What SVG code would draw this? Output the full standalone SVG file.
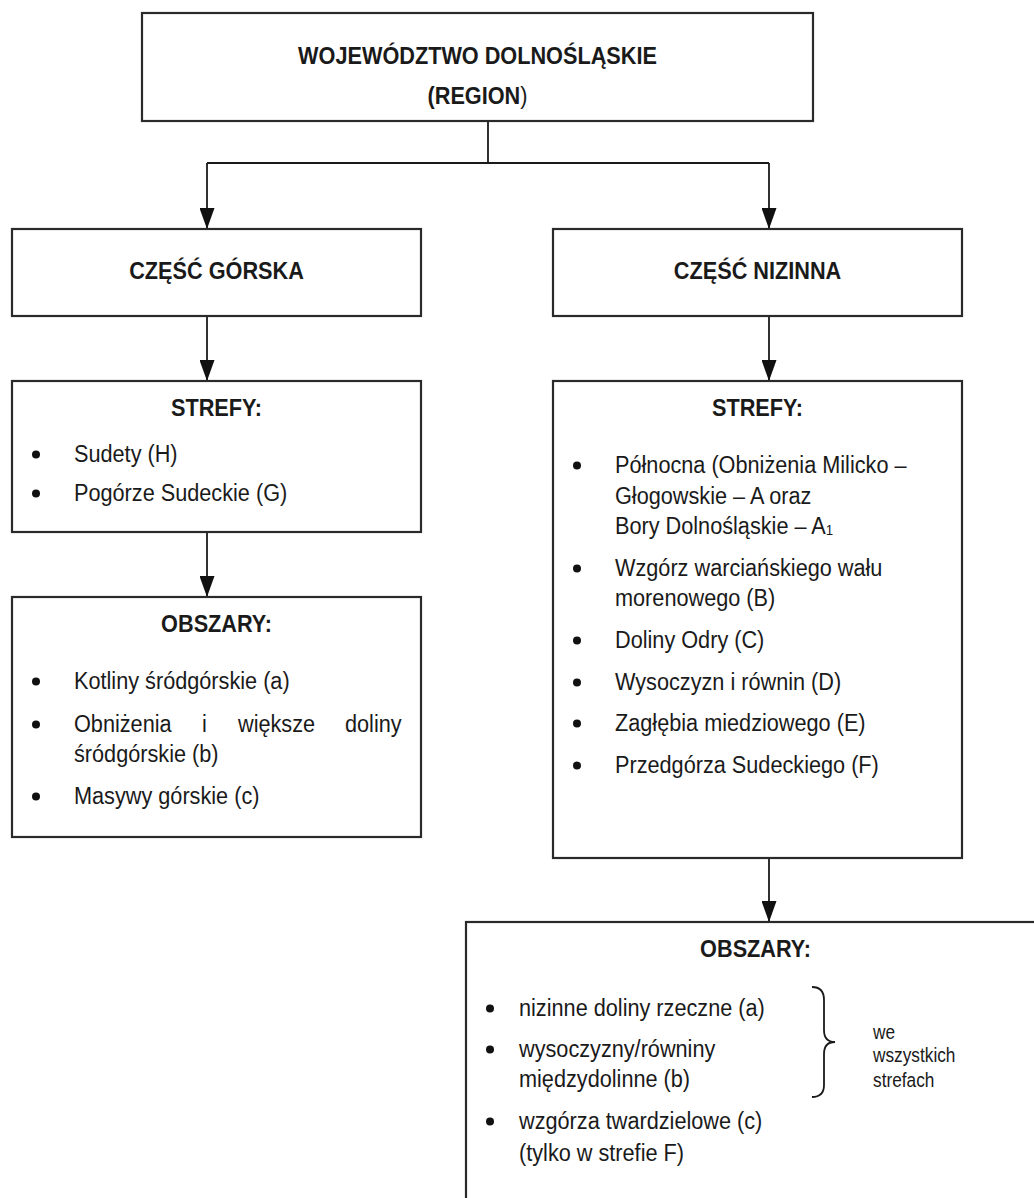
<svg xmlns="http://www.w3.org/2000/svg" width="1034" height="1198" viewBox="0 0 1034 1198">
<style>
.box{fill:#fff;stroke:#2a2a2a;stroke-width:2.2}
.ln{fill:none;stroke:#1a1a1a;stroke-width:1.8}
.t{font-family:"Liberation Sans",Arial,sans-serif;font-size:24.5px;fill:#1a1a1a}
.b{font-weight:bold}
.m{text-anchor:middle}
.s{font-family:"Liberation Sans",Arial,sans-serif;font-size:19.5px;fill:#1a1a1a}
.dot{fill:#111}
</style>
<defs>
<marker id="ah" markerUnits="userSpaceOnUse" markerWidth="21" markerHeight="15" refX="21" refY="7.5" orient="auto" viewBox="0 0 21 15">
<path d="M0,0 L21,7.5 L0,15 z" fill="#111"/>
</marker>
</defs>
<rect width="1034" height="1198" fill="#fff"/>

<g id="connectors">
<path class="ln" d="M488,121 L488,163"/>
<path class="ln" d="M207,163 L769,163"/>
<path class="ln" d="M207,163 L207,229" marker-end="url(#ah)"/>
<path class="ln" d="M769,163 L769,229" marker-end="url(#ah)"/>
<path class="ln" d="M207,316 L207,381" marker-end="url(#ah)"/>
<path class="ln" d="M207,532 L207,597" marker-end="url(#ah)"/>
<path class="ln" d="M769,316 L769,381" marker-end="url(#ah)"/>
<path class="ln" d="M769,858 L769,922" marker-end="url(#ah)"/>
</g>

<g id="region">
<rect class="box" x="142" y="13" width="671" height="108"/>
<text class="t b m" transform="translate(477.5,63.5) scale(0.885,1)">WOJEWÓDZTWO DOLNOŚLĄSKIE</text>
<text class="t b m" transform="translate(477.5,103.5) scale(0.885,1)">(REGION<tspan font-weight="normal">)</tspan></text>
</g>

<g id="czesc-gorska">
<rect class="box" x="12" y="229" width="409" height="87"/>
<text class="t b m" transform="translate(216.5,278.5) scale(0.885,1)">CZĘŚĆ GÓRSKA</text>
</g>

<g id="czesc-nizinna">
<rect class="box" x="553" y="229" width="409" height="87"/>
<text class="t b m" transform="translate(757.5,278.5) scale(0.885,1)">CZĘŚĆ NIZINNA</text>
</g>

<g id="strefy-gorska">
<rect class="box" x="12" y="381" width="409" height="151"/>
<text class="t b m" transform="translate(216.5,415.5) scale(0.885,1)">STREFY:</text>
<circle class="dot" cx="36" cy="454.5" r="4"/>
<text class="t" transform="translate(74,461.5) scale(0.885,1)">Sudety (H)</text>
<circle class="dot" cx="36" cy="493.5" r="4"/>
<text class="t" transform="translate(74,500.5) scale(0.885,1)">Pogórze Sudeckie (G)</text>
</g>

<g id="obszary-gorska">
<rect class="box" x="12" y="597" width="409" height="240"/>
<text class="t b m" transform="translate(216.5,631.5) scale(0.885,1)">OBSZARY:</text>
<circle class="dot" cx="36" cy="681.5" r="4"/>
<text class="t" transform="translate(74,688.5) scale(0.885,1)">Kotliny śródgórskie (a)</text>
<circle class="dot" cx="36" cy="724.5" r="4"/>
<text class="t" transform="translate(74,731.5) scale(0.885,1)">Obniżenia</text>
<text class="t" transform="translate(202,731.5) scale(0.885,1)">i</text>
<text class="t" transform="translate(238,731.5) scale(0.885,1)">większe</text>
<text class="t" transform="translate(345,731.5) scale(0.885,1)">doliny</text>
<text class="t" transform="translate(74,761.5) scale(0.885,1)">śródgórskie (b)</text>
<circle class="dot" cx="36" cy="796.5" r="4"/>
<text class="t" transform="translate(74,803.5) scale(0.885,1)">Masywy górskie (c)</text>
</g>

<g id="strefy-nizinna">
<rect class="box" x="553" y="381" width="409" height="477"/>
<text class="t b m" transform="translate(757.5,415.5) scale(0.885,1)">STREFY:</text>
<circle class="dot" cx="577" cy="465.5" r="4"/>
<text class="t" transform="translate(615,472.5) scale(0.885,1)">Północna (Obniżenia Milicko –</text>
<text class="t" transform="translate(615,503.5) scale(0.885,1)">Głogowskie – A oraz</text>
<text class="t" transform="translate(615,533.5) scale(0.885,1)">Bory Dolnośląskie – A<tspan font-size="15" dy="1">1</tspan></text>
<circle class="dot" cx="577" cy="568.5" r="4"/>
<text class="t" transform="translate(615,575.5) scale(0.885,1)">Wzgórz warciańskiego wału</text>
<text class="t" transform="translate(615,605.5) scale(0.885,1)">morenowego (B)</text>
<circle class="dot" cx="577" cy="640.5" r="4"/>
<text class="t" transform="translate(615,647.5) scale(0.885,1)">Doliny Odry (C)</text>
<circle class="dot" cx="577" cy="682.5" r="4"/>
<text class="t" transform="translate(615,689.5) scale(0.885,1)">Wysoczyzn i równin (D)</text>
<circle class="dot" cx="577" cy="723.5" r="4"/>
<text class="t" transform="translate(615,730.5) scale(0.885,1)">Zagłębia miedziowego (E)</text>
<circle class="dot" cx="577" cy="765.5" r="4"/>
<text class="t" transform="translate(615,772.5) scale(0.885,1)">Przedgórza Sudeckiego (F)</text>
</g>

<g id="obszary-nizinna">
<rect class="box" x="466" y="922" width="600" height="320"/>
<text class="t b m" transform="translate(755.5,956.5) scale(0.885,1)">OBSZARY:</text>
<circle class="dot" cx="490" cy="1008.5" r="4"/>
<text class="t" transform="translate(519,1015.5) scale(0.885,1)">nizinne doliny rzeczne (a)</text>
<circle class="dot" cx="490" cy="1049.5" r="4"/>
<text class="t" transform="translate(519,1056.5) scale(0.885,1)">wysoczyzny/równiny</text>
<text class="t" transform="translate(519,1086.5) scale(0.885,1)">międzydolinne (b)</text>
<circle class="dot" cx="490" cy="1121.5" r="4"/>
<text class="t" transform="translate(519,1128.5) scale(0.885,1)">wzgórza twardzielowe (c)</text>
<text class="t" transform="translate(519,1160.5) scale(0.885,1)">(tylko w strefie F)</text>
<path class="ln" d="M812,987 Q824,987 824,1000 L824,1030 Q824,1042 835,1042 Q824,1042 824,1054 L824,1085 Q824,1097 812,1097"/>
<text class="s" transform="translate(873,1039) scale(0.885,1)">we</text>
<text class="s" transform="translate(873,1062) scale(0.885,1)">wszystkich</text>
<text class="s" transform="translate(873,1087) scale(0.885,1)">strefach</text>
</g>
</svg>
